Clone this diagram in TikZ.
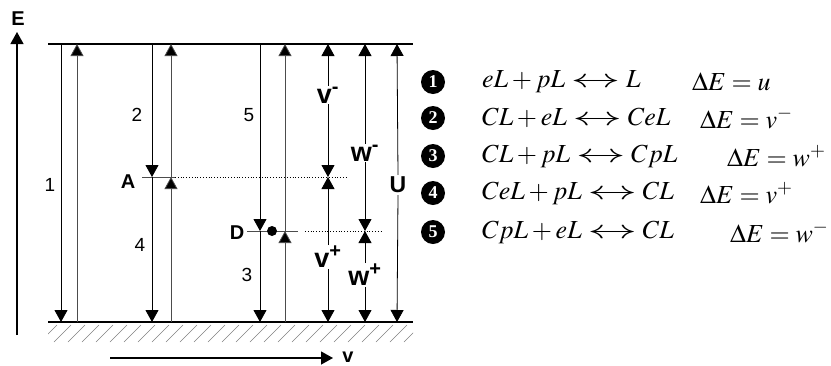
\documentclass[tikz,border=0pt]{standalone}
\usepackage{mathptmx}
\usepackage[no-math]{fontspec}
\usepackage{graphicx}
\setmainfont{Liberation Serif}
\setsansfont{Liberation Sans}
\usetikzlibrary{arrows.meta}
\newcommand{\lrarr}{\mathrel{\scalebox{1.9}[1]{$\leftrightarrow$}}}
\tikzset{
  level/.style={line width=1.5pt},
  tiptri/.tip={Triangle[width=13pt,length=12pt]},
  darr/.style={line width=0.8pt,-tiptri},
  uarr/.style={line width=0.8pt,draw=black!70,-{Triangle[width=13pt,length=12pt,fill=black]}},
  axis/.style={line width=1.3pt,-tiptri},
  numlab/.style={font=\sffamily\fontsize{19}{19}\selectfont,inner sep=1pt},
  boldlab/.style={font=\sffamily\bfseries\fontsize{20}{20}\selectfont,inner sep=1pt},
  vwlab/.style={font=\sffamily\bfseries\fontsize{27}{27}\selectfont,inner sep=1pt},
  ulab/.style={font=\sffamily\bfseries\fontsize{23}{23}\selectfont,inner sep=2pt},
  dotline/.style={line width=0.8pt,dotted},
  levline/.style={line width=0.9pt,draw=black!70},
  hatch/.style={line width=0.4pt,draw=black!50},
  circnum/.style={circle,fill=black,text=white,inner sep=0pt,minimum size=24pt,font=\bfseries\fontsize{18}{18}\selectfont},
  eqn/.style={anchor=west,inner sep=0pt,font=\fontsize{26}{30}\selectfont},
}
\begin{document}
\begin{tikzpicture}[x=1pt,y=-1pt]
\useasboundingbox (0,0) rectangle (831,365);
% main levels
\coordinate (TL) at (48,44); \coordinate (TR) at (413,44);
\coordinate (BL) at (48,322); \coordinate (BR) at (413,322);
\draw[level] (TL) -- (TR);
\draw[level] (BL) -- (BR);
\begin{scope}
\clip (48,323) rectangle (413,343);
\foreach \x in {40,54,...,420} \draw[hatch] (\x,342) -- (\x+17,325);
\end{scope}
% axes
\coordinate (E0) at (17,335); \coordinate (E1) at (17,32);
\draw[axis] (E0) -- (E1);
\node[boldlab] (Elab) at (18,19) {E};
\coordinate (v0) at (110,358); \coordinate (v1) at (333,358);
\draw[axis] (v0) -- (v1);
\node[font=\sffamily\bfseries\fontsize{20}{20}\selectfont,anchor=base,inner sep=0pt] (vlab) at (348,362) {v};
% level A and D
\coordinate (Aw) at (142,177); \coordinate (Ae) at (175,177); \coordinate (Aend) at (348,177);
\draw[levline] (Aw) -- (Ae);
\draw[dotline] (Ae) -- (Aend);
\node[boldlab] (Alab) at (128,182) {A};
\coordinate (Dw) at (247,231); \coordinate (De) at (298,231); \coordinate (Ds) at (305,231); \coordinate (Dend) at (382,231);
\draw[levline] (Dw) -- (De);
\draw[dotline] (Ds) -- (Dend);
\node[circle,fill=black,inner sep=0pt,minimum size=10pt] (dot) at (272,231) {};
\node[boldlab] (Dlab) at (237,233) {D};
% columns
\foreach \n/\x in {a/61,b/77,c/152,d/171,e/260,f/285,g/328,h/365,i/397}{
  \coordinate (\n t) at (\x,44);
  \coordinate (\n b) at (\x,322);
  \coordinate (\n A) at (\x,177);
  \coordinate (\n D) at (\x,231);
}
% process 1
\draw[darr] (at) -- (ab);
\draw[uarr] (bb) -- (bt);
\node[numlab] (n1) at (50,185) {1};
% process 2 and 4
\draw[darr] (ct) -- (cA);
\draw[darr] (cA) -- (cb);
\draw[uarr] (db) -- (dA);
\draw[uarr] (dA) -- (dt);
\node[numlab] (n2) at (137,115) {2};
\node[numlab] (n4) at (140,245) {4};
% process 5 and 3
\draw[darr] (et) -- (eD);
\draw[darr] (eD) -- (eb);
\draw[uarr] (fb) -- (fD);
\draw[uarr] (fD) -- (ft);
\node[numlab] (n5) at (249,115) {5};
\node[numlab] (n3) at (247,275) {3};
% energy intervals
\node[vwlab] (vm) at (328,95) {v\textsuperscript{-}};
\draw[darr] (vm.north) -- (gt);
\draw[darr] (vm.south) -- (gA);
\node[vwlab] (vp) at (328,257) {v\textsuperscript{+}};
\draw[darr] (vp.north) -- (gA);
\draw[darr] (vp.south) -- (gb);
\node[vwlab] (wm) at (365,153) {w\textsuperscript{-}};
\draw[darr] (wm.north) -- (ht);
\draw[darr] (wm.south) -- (hD);
\node[vwlab] (wp) at (365,275) {w\textsuperscript{+}};
\draw[darr] (wp.north) -- (hD);
\draw[darr] (wp.south) -- (hb);
\node[ulab] (U) at (398,185) {U};
\draw[darr] (U.north) -- (it);
\draw[darr] (U.south) -- (ib);
% reactions
\node[circnum] (c1) at (433,82) {1};
\node[circnum] (c2) at (433,118) {2};
\node[circnum] (c3) at (433,156) {3};
\node[circnum] (c4) at (433,193) {4};
\node[circnum] (c5) at (433,232) {5};
\node[eqn] (r1) at (482,82) {$eL + pL \lrarr L$};
\node[eqn] (r2) at (482,118) {$CL + eL \lrarr CeL$};
\node[eqn] (r3) at (482,156) {$CL + pL \lrarr CpL$};
\node[eqn] (r4) at (482,193) {$CeL + pL \lrarr CL$};
\node[eqn] (r5) at (482,232) {$CpL + eL \lrarr CL$};
\node[eqn] (d1) at (692,82) {$\Delta E = u$};
\node[eqn] (d2) at (700,118) {$\Delta E = v^{-}$};
\node[eqn] (d3) at (727,156) {$\Delta E = w^{+}$};
\node[eqn] (d4) at (700,193) {$\Delta E = v^{+}$};
\node[eqn] (d5) at (730,232) {$\Delta E = w^{-}$};
\end{tikzpicture}
\end{document}
